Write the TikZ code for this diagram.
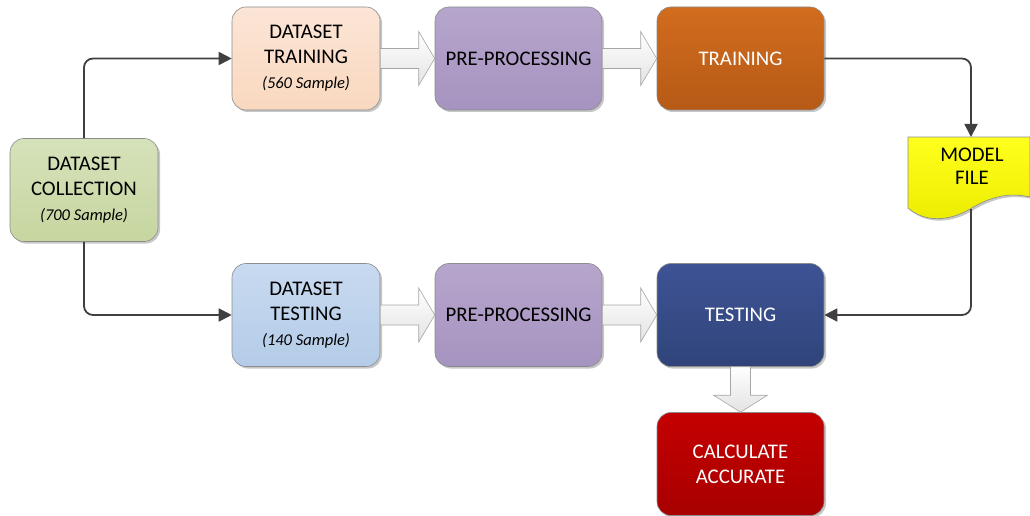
\documentclass[tikz,border=0pt]{standalone}
\usepackage{fontspec}
\setmainfont{Carlito}
\usetikzlibrary{arrows.meta,calc,shadows}
\definecolor{connc}{HTML}{404040}
\definecolor{bordc}{HTML}{8C8C8C}
\definecolor{gT}{RGB}{214,226,186}\definecolor{gB}{RGB}{198,214,160}
\definecolor{pT}{RGB}{252,229,214}\definecolor{pB}{RGB}{249,216,191}
\definecolor{vT}{RGB}{182,165,204}\definecolor{vB}{RGB}{166,148,192}
\definecolor{oT}{RGB}{210,108,30}\definecolor{oB}{RGB}{182,90,22}
\definecolor{bT}{RGB}{200,218,240}\definecolor{bB}{RGB}{180,204,232}
\definecolor{nT}{RGB}{62,83,148}\definecolor{nB}{RGB}{48,68,122}
\definecolor{rT}{RGB}{196,0,0}\definecolor{rB}{RGB}{168,0,0}
\definecolor{yT}{RGB}{255,255,30}\definecolor{yB}{RGB}{236,236,0}
\tikzset{
  box/.style={draw=bordc, line width=0.6pt, rounded corners=14pt, align=center,
    minimum width=167pt, minimum height=103pt, inner sep=0pt,
    font=\fontsize{20.8}{25}\selectfont,
    drop shadow={shadow xshift=2pt, shadow yshift=-2pt, opacity=0.22, fill=black}},
  narrow/.style={minimum width=148pt},
  conn/.style={draw=connc, line width=1.8pt, rounded corners=9pt,
    -{Triangle[length=13pt,width=13pt]}},
  blockarr/.style={draw=gray!70, line width=0.6pt, top color=white, bottom color=gray!22}
}
\newcommand\smptext[1]{{\fontsize{16.5}{20}\selectfont\itshape #1}}
\newcommand\harrow[2]{%
  \draw[blockarr] ($(#1.east)+(0,-10)$) -- ($(#2.west)+(-16,-10)$) -- ($(#2.west)+(-16,-27)$)
    -- (#2.west) -- ($(#2.west)+(-16,27)$) -- ($(#2.west)+(-16,10)$) -- ($(#1.east)+(0,10)$) -- cycle;}
\begin{document}
\begin{tikzpicture}[x=1pt,y=-1pt]
\useasboundingbox (0,0) rectangle (1030,516);
% nodes
\node[box,narrow,top color=gT,bottom color=gB]
  (col) at (84,190) {DATASET\\COLLECTION\\\smptext{(700 Sample)}};
\node[box,narrow,top color=pT,bottom color=pB]
  (dtr) at (306,58.5) {DATASET\\TRAINING\\\smptext{(560 Sample)}};
\node[box,top color=vT,bottom color=vB]
  (pp1) at (518.5,58.5) {PRE-PROCESSING};
\node[box,text=white,top color=oT,bottom color=oB]
  (tr) at (740.5,58.5) {TRAINING};
\node[box,narrow,top color=bT,bottom color=bB]
  (dte) at (306,315) {DATASET\\TESTING\\\smptext{(140 Sample)}};
\node[box,top color=vT,bottom color=vB]
  (pp2) at (518.5,315) {PRE-PROCESSING};
\node[box,text=white,top color=nT,bottom color=nB]
  (te) at (740.5,315) {TESTING};
\node[box,text=white,top color=rT,bottom color=rB]
  (ca) at (740.5,464) {CALCULATE\\ACCURATE};
% model file (document shape)
\path[draw=bordc, line width=0.6pt, top color=yT, bottom color=yB,
  drop shadow={shadow xshift=2pt, shadow yshift=-2pt, opacity=0.22, fill=black}]
  (908,137) -- (1030,137) -- (1030,197)
  .. controls (1008,192) and (990,197) .. (970,209)
  .. controls (950,221) and (925,223) .. (908,208) -- cycle;
\node[align=center, font=\fontsize{20.8}{23}\selectfont, inner sep=0pt] (mf) at (972,166.5) {MODEL\\FILE};
\coordinate (mftop) at (971,137);
\coordinate (mfbot) at (971,209);
% block arrows
\harrow{dtr}{pp1}
\harrow{pp1}{tr}
\harrow{dte}{pp2}
\harrow{pp2}{te}
\draw[blockarr] ($(te.south)+(-10,0)$) -- ($(ca.north)+(-10,-17)$) -- ($(ca.north)+(-27,-17)$)
  -- (ca.north) -- ($(ca.north)+(27,-17)$) -- ($(ca.north)+(10,-17)$) -- ($(te.south)+(10,0)$) -- cycle;
% connectors
\draw[conn] (col.north) |- (dtr.west);
\draw[conn] (col.south) |- (dte.west);
\draw[conn] (tr.east) -| (mftop);
\draw[conn] (mfbot) |- (te.east);
\end{tikzpicture}
\end{document}
